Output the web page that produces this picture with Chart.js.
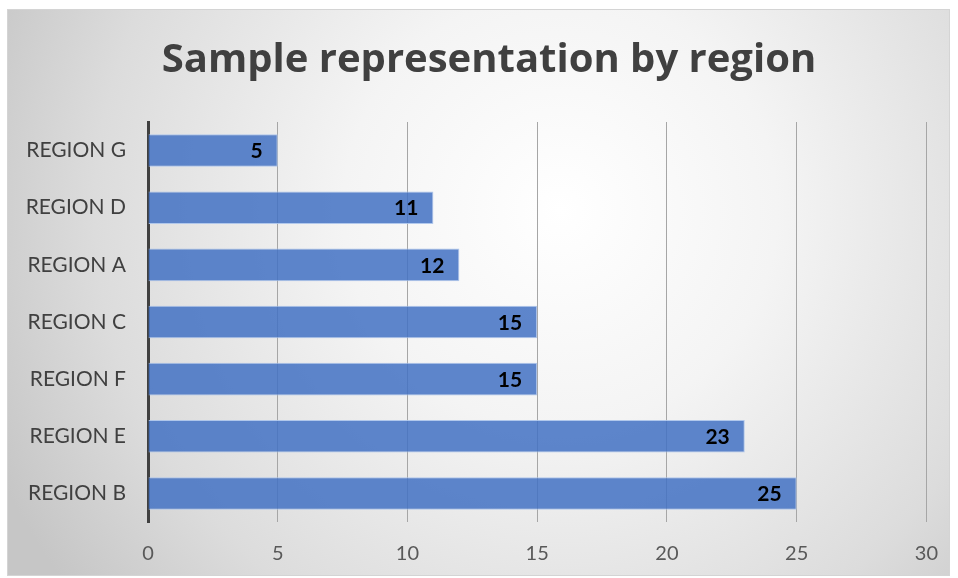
<!DOCTYPE html>
<html>
<head>
<meta charset="utf-8">
<script src="https://cdn.jsdelivr.net/npm/chart.js@4/dist/chart.umd.min.js"></script>
<style>
  html, body { margin: 0; padding: 0; background: #ffffff; }
  canvas { display: block; }
</style>
</head>
<body>
<canvas id="chart" width="958" height="578"></canvas>
<script>
// Regions, listed top to bottom
const regions = ['REGION G', 'REGION D', 'REGION A', 'REGION C', 'REGION F', 'REGION E', 'REGION B'];
// Sample count for each region
const sampleCounts = [5, 11, 12, 15, 15, 23, 25];
// Value axis range and step
const axisMin = 0;
const axisMax = 30;
const axisStep = 5;
const chartTitle = 'Sample representation by region';

const FONT = 'Lato, "Open Sans", "Liberation Sans", sans-serif';
const TITLE_FONT = '"Open Sans", Lato, "Liberation Sans", sans-serif';

// Panel background: soft radial shading inside a thin frame
const panelBackground = {
  id: 'panelBackground',
  beforeDraw(chart) {
    const ctx = chart.ctx;
    const w = chart.width, h = chart.height;
    ctx.save();
    ctx.fillStyle = '#ffffff';
    ctx.fillRect(0, 0, w, h);
    const x0 = 7, y0 = 9, x1 = w - 8, y1 = h - 2;
    const g = ctx.createRadialGradient(560, 210, 0, 560, 210, 620);
    g.addColorStop(0, '#ffffff');
    g.addColorStop(0.35, '#f4f4f4');
    g.addColorStop(0.75, '#dcdcdc');
    g.addColorStop(1, '#c6c6c6');
    ctx.fillStyle = g;
    ctx.fillRect(x0, y0, x1 - x0, y1 - y0);
    ctx.strokeStyle = '#d4d4d4';
    ctx.lineWidth = 1;
    ctx.strokeRect(x0 + 0.5, y0 + 0.5, x1 - x0 - 1, y1 - y0 - 1);

    // Title, centred over the framed panel
    ctx.font = 'bold 40px ' + TITLE_FONT;
    ctx.fillStyle = '#404040';
    ctx.textAlign = 'center';
    ctx.textBaseline = 'alphabetic';
    ctx.fillText(chartTitle, 489, 72);
    ctx.restore();
  }
};

// Value labels drawn inside the end of each bar
const barValueLabels = {
  id: 'barValueLabels',
  afterDatasetsDraw(chart) {
    const ctx = chart.ctx;
    ctx.save();
    ctx.font = 'bold 21px ' + FONT;
    ctx.fillStyle = '#000000';
    ctx.textAlign = 'right';
    ctx.textBaseline = 'middle';
    chart.data.datasets.forEach((ds, di) => {
      const meta = chart.getDatasetMeta(di);
      meta.data.forEach((bar, i) => {
        ctx.fillText(String(ds.data[i]), bar.x - 15, bar.y + 1);
      });
    });
    ctx.restore();
  }
};

new Chart(document.getElementById('chart'), {
  type: 'bar',
  data: {
    labels: regions,
    datasets: [{
      data: sampleCounts,
      backgroundColor: 'rgba(68, 114, 196, 0.86)',
      borderColor: 'rgba(170, 195, 235, 0.9)',
      borderWidth: 1,
      borderSkipped: 'start',
      categoryPercentage: 1,
      barPercentage: 0.57
    }]
  },
  options: {
    indexAxis: 'y',
    responsive: false,
    animation: false,
    devicePixelRatio: 1,
    layout: { padding: { left: 8, right: 30, top: 122, bottom: 2 } },
    plugins: {
      legend: { display: false },
      tooltip: { enabled: false },
      title: { display: false }
    },
    scales: {
      x: {
        min: axisMin,
        max: axisMax,
        ticks: {
          stepSize: axisStep,
          color: '#595959',
          font: { family: FONT, size: 20 },
          padding: 20
        },
        grid: {
          color: (c) => c.tick && c.tick.value === axisMin ? 'rgba(0,0,0,0)' : '#a6a6a6',
          lineWidth: 1,
          drawTicks: false
        },
        border: { display: false },
        afterFit(scale) { scale.height = 54; }
      },
      y: {
        ticks: {
          color: '#404040',
          font: { family: FONT, size: 21 },
          padding: 22
        },
        grid: { display: false, drawTicks: false },
        border: { display: true, color: '#404040', width: 3 },
        afterFit(scale) { scale.width = 140; }
      }
    }
  },
  plugins: [panelBackground, barValueLabels]
});
</script>
</body>
</html>
